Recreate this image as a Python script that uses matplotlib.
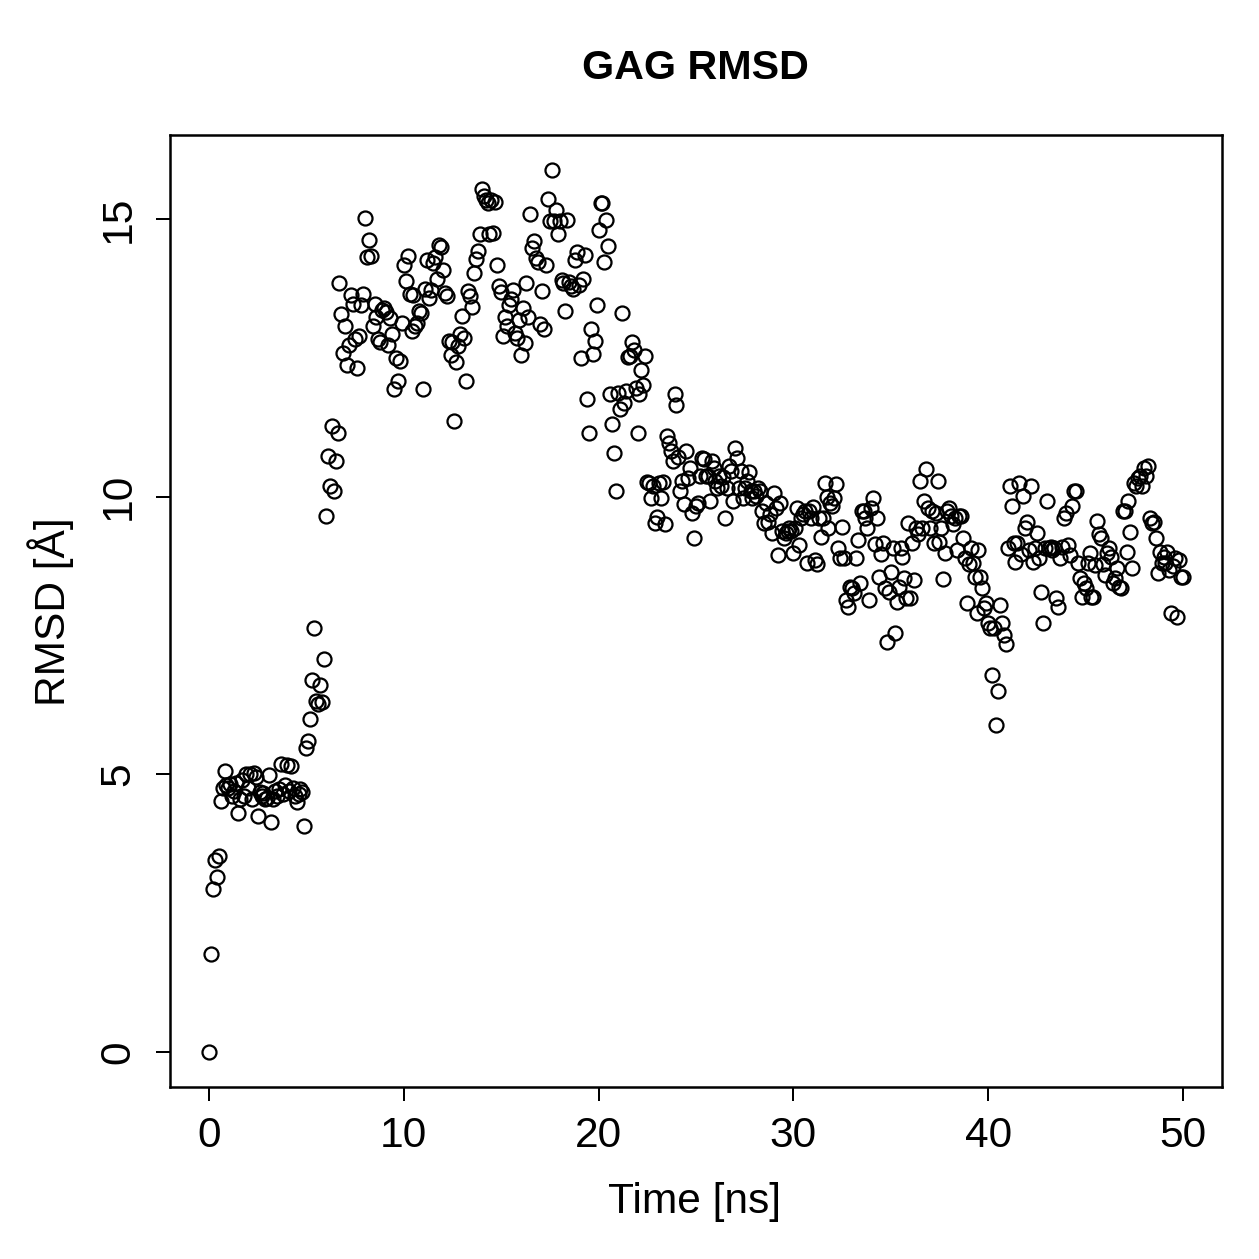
import numpy as np
import matplotlib
matplotlib.use('Agg')
import matplotlib.pyplot as plt

plt.rcParams['font.family'] = ['Liberation Sans', 'DejaVu Sans']

# RMSD of GAG, one frame every 0.1 ns
time_step = 0.1
rmsd = [
    # 0-1 ns
    0.0, 1.77, 2.94, 3.46, 3.15, 3.53, 4.52, 4.76, 5.05, 4.8,
    4.75, 4.82, 4.6, 4.7, 4.85, 4.3, 4.55, 4.9, 4.6, 5.0,
    4.75, 5.0, 4.55, 5.02, 4.95, 4.24, 4.68, 4.6, 4.66, 4.55,
    4.58, 4.98, 4.13, 4.55, 4.7, 4.6, 4.74, 5.19, 4.65, 4.8,
    5.17, 4.7, 5.15, 4.75, 4.6, 4.5, 4.65, 4.74, 4.68, 4.07,
    # 5-10 ns
    5.48, 5.6, 5.99, 6.7, 7.63, 6.31, 6.27, 6.6, 6.3, 7.08,
    9.65, 10.74, 10.2, 11.27, 10.1, 10.65, 11.14, 13.85, 13.29, 12.58,
    13.07, 12.37, 12.73, 13.63, 13.47, 12.84, 12.31, 12.89, 13.45, 13.65,
    15.02, 14.31, 14.62, 14.33, 13.07, 13.47, 13.23, 12.84, 12.78, 13.36,
    13.39, 13.32, 12.73, 13.21, 12.93, 11.93, 12.49, 12.08, 12.44, 13.12,
    # 10-15 ns
    14.17, 13.88, 14.33, 13.65, 12.98, 13.63, 13.07, 13.12, 13.34, 13.3,
    11.93, 13.74, 14.26, 13.57, 13.72, 14.2, 14.31, 13.92, 14.53, 14.49,
    14.08, 13.67, 13.61, 12.8, 12.55, 12.78, 11.37, 12.42, 12.71, 12.93,
    13.25, 12.85, 12.08, 13.7, 13.61, 13.41, 14.03, 14.28, 14.42, 14.73,
    15.54, 15.41, 15.34, 15.29, 14.73, 15.34, 14.75, 15.31, 14.17, 13.79,
    # 15-20 ns
    13.68, 12.89, 13.23, 13.07, 13.45, 13.56, 13.72, 12.94, 12.85, 13.18,
    12.55, 13.39, 12.76, 13.85, 13.23, 15.09, 14.48, 14.6, 14.3, 14.22,
    13.11, 13.7, 13.02, 14.17, 15.36, 14.96, 15.88, 14.96, 15.16, 14.73,
    14.96, 13.9, 13.85, 13.34, 14.98, 13.86, 13.79, 13.74, 14.26, 14.4,
    13.81, 12.49, 13.92, 14.35, 11.75, 11.14, 13.02, 12.57, 12.8, 13.45,
    # 20-25 ns
    14.8, 15.29, 15.29, 14.22, 14.98, 14.51, 11.84, 11.3, 10.78, 10.1,
    11.86, 11.57, 13.3, 11.68, 11.9, 12.51, 12.53, 12.78, 12.64, 11.95,
    11.14, 11.84, 12.28, 12.02, 12.53, 10.26, 10.24, 9.97, 10.19, 9.52,
    9.63, 10.24, 9.97, 10.26, 9.5, 11.09, 10.96, 10.83, 10.65, 11.85,
    11.65, 10.71, 10.1, 10.28, 9.86, 10.82, 10.33, 10.51, 9.7, 9.25,
    # 25-30 ns
    9.84, 9.88, 10.37, 10.69, 10.67, 10.37, 10.38, 9.92, 10.64, 10.51,
    10.29, 10.15, 10.37, 10.19, 10.35, 9.61, 10.15, 10.56, 10.47, 9.92,
    10.87, 10.69, 10.15, 10.47, 9.97, 10.15, 10.28, 10.45, 10.1, 9.97,
    10.11, 10.02, 10.15, 10.1, 9.75, 9.52, 9.88, 9.54, 9.68, 9.34,
    10.06, 9.79, 8.94, 9.88, 9.39, 9.25, 9.34, 9.39, 9.43, 9.39,
    # 30-35 ns
    8.98, 9.43, 9.79, 9.12, 9.61, 9.68, 9.75, 8.8, 9.74, 9.61,
    9.81, 8.85, 8.78, 9.61, 9.28, 9.61, 10.24, 10.0, 9.43, 9.88,
    9.84, 9.97, 10.22, 9.07, 8.89, 9.46, 8.89, 8.13, 8.02, 8.38,
    8.35, 8.26, 8.89, 9.21, 8.44, 9.74, 9.75, 9.61, 9.43, 8.13,
    9.79, 9.97, 9.14, 9.61, 8.56, 8.96, 9.16, 8.35, 7.39, 8.29,
    # 35-40 ns
    8.65, 9.07, 7.55, 8.11, 8.38, 9.07, 8.92, 8.53, 8.17, 9.52,
    8.17, 9.16, 8.49, 9.43, 9.32, 10.28, 9.43, 9.92, 10.49, 9.79,
    9.43, 9.75, 9.16, 9.7, 10.29, 9.19, 9.43, 8.51, 8.98, 9.75,
    9.79, 9.65, 9.5, 9.61, 9.03, 9.65, 9.66, 9.25, 8.89, 8.08,
    8.78, 9.07, 8.8, 8.56, 7.9, 9.03, 8.56, 8.35, 7.99, 8.08,
    # 40-45 ns
    7.72, 7.63, 6.78, 7.63, 5.88, 6.49, 8.04, 7.72, 7.5, 7.34,
    9.07, 10.2, 9.83, 9.16, 8.83, 9.16, 10.24, 8.96, 10.02, 9.43,
    9.55, 9.03, 10.2, 8.83, 9.07, 9.34, 8.89, 8.29, 7.72, 9.07,
    9.92, 9.07, 9.1, 9.03, 9.07, 8.17, 8.02, 8.89, 9.1, 9.61,
    9.7, 9.12, 8.94, 9.83, 10.11, 10.11, 8.8, 8.53, 8.2, 8.44,
    # 45-50 ns
    8.35, 8.8, 8.98, 8.2, 8.2, 8.76, 9.57, 9.32, 9.25, 8.78,
    8.58, 8.98, 9.07, 8.92, 8.44, 8.53, 8.71, 8.38, 8.35, 9.75,
    9.75, 9.01, 9.92, 9.37, 8.71, 10.24, 10.2, 10.33, 10.37, 10.19,
    10.51, 10.38, 10.56, 9.61, 9.52, 9.55, 9.25, 8.62, 9.01, 8.8,
    8.92, 8.8, 9.01, 8.67, 7.9, 8.75, 8.89, 7.84, 8.85, 8.56,
    8.56,
]
time_ns = np.arange(len(rmsd)) * time_step

x_ticks = [0, 10, 20, 30, 40, 50]
y_ticks = [0, 5, 10, 15]

fig = plt.figure(figsize=(1259 / 180, 1259 / 180), dpi=180)
ax = fig.add_axes([0.135, 0.1366, 0.8356, 0.7562])

ax.plot(time_ns, rmsd, 'o', mfc='none', mec='black', ms=5.6, mew=0.9)

# R-style 4% padding around the data range
def padded(lo, hi):
    d = (hi - lo) * 0.04
    return lo - d, hi + d

ax.set_xlim(*padded(min(time_ns), max(time_ns)))
ax.set_ylim(*padded(min(rmsd), max(rmsd)))

ax.set_xticks(x_ticks)
ax.set_yticks(y_ticks)
ax.tick_params(direction='out', length=5.6, width=0.8, labelsize=17)
ax.tick_params(axis='x', pad=6)
ax.tick_params(axis='y', pad=7)
for lab in ax.get_yticklabels():
    lab.set_rotation(90)
    lab.set_va('center')
for s in ax.spines.values():
    s.set_linewidth(1.0)

fig.text(0.552, 0.946, 'GAG RMSD', ha='center', va='center', fontsize=16.5, fontweight='bold')
fig.text(0.552, 0.045, 'Time [ns]', ha='center', va='center', fontsize=17)
fig.text(0.04, 0.514, 'RMSD [Å]', ha='center', va='center', fontsize=17, rotation=90)

fig.savefig('out.png', dpi=180)
